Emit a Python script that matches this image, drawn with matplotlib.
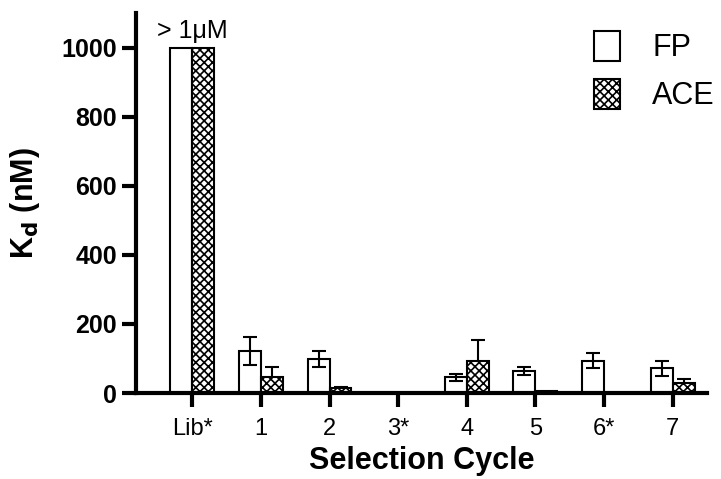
import matplotlib.pyplot as plt
import numpy as np

plt.rcParams['font.family'] = ['Liberation Sans', 'DejaVu Sans']
plt.rcParams['hatch.linewidth'] = 1.2

cycles = ['Lib*', '1', '2', '3*', '4', '5', '6*', '7']
fp_kd = [1000, 121, 98, 0, 45, 64, 94, 72]
fp_err = [0, 41, 23, 0, 10, 12, 23, 22]
ace_kd = [1000, 46, 14, 0, 92, 5, 0, 28]
ace_err = [0, 29, 3, 0, 61, 0, 0, 12]

x = np.arange(len(cycles))
w = 0.32

fig = plt.figure(figsize=(7.21, 4.79), dpi=100)
ax = fig.add_axes([0.1886, 0.1795, 0.792, 0.7934])

fp_bars = ax.bar(x - w / 2, fp_kd, w, color='white', edgecolor='black',
                 linewidth=1.5, label='FP', zorder=2)
ace_bars = ax.bar(x + w / 2, ace_kd, w, color='white', edgecolor='black',
                  hatch='xxxx', linewidth=1.5, label='ACE', zorder=2)

# error bars (skip missing ones)
for xi, v, e in zip(x - w / 2, fp_kd, fp_err):
    if e > 0:
        ax.errorbar(xi, v, yerr=e, color='black', capsize=5, elinewidth=1.5,
                    capthick=1.5, zorder=3)
for xi, v, e in zip(x + w / 2, ace_kd, ace_err):
    if e > 0:
        ax.errorbar(xi, v, yerr=e, color='black', capsize=5, elinewidth=1.5,
                    capthick=1.5, zorder=1)

ax.text(x[0], 1012, '> 1\u03bcM', ha='center', va='bottom', fontsize=18)

ax.set_xlim(-0.82, 7.5)
ax.set_ylim(0, 1100)
ax.set_xticks(x)
ax.set_xticklabels(cycles, fontsize=17)
ax.set_yticks([0, 200, 400, 600, 800, 1000])
ax.set_yticklabels(['0', '200', '400', '600', '800', '1000'], fontsize=18,
                   fontweight='bold')

ax.spines['top'].set_visible(False)
ax.spines['right'].set_visible(False)
ax.spines['left'].set_linewidth(3)
ax.spines['bottom'].set_linewidth(3)
ax.tick_params(axis='both', length=10, width=3, direction='out')
ax.tick_params(axis='x', pad=8)

ax.set_xlabel('Selection Cycle', fontsize=22, fontweight='bold', labelpad=4)
ax.set_ylabel(r'K$_\mathbf{d}$ (nM)', fontsize=22, fontweight='bold', labelpad=14)

leg = ax.legend(loc='upper right', frameon=False, fontsize=22,
                handlelength=0.85, handleheight=1.15, borderaxespad=0.0,
                labelspacing=0.5, handletextpad=1.05,
                bbox_to_anchor=(1.035, 0.985))

plt.savefig('out.png', dpi=100)
